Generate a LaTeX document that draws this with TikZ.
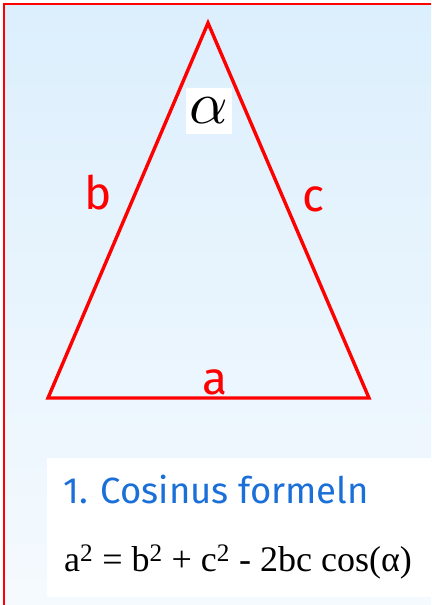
\documentclass[tikz,border=0pt]{standalone}
\usepackage{fontspec}
\usepackage{xcolor}
\setmainfont{Liberation Serif}
\newfontfamily\labelfont{Fira Sans}
\usetikzlibrary{positioning, calc}

\definecolor{skytop}{HTML}{DCEFFD}
\definecolor{skybottom}{HTML}{F5FAFE}
\definecolor{titleblue}{HTML}{1A6FD8}

\tikzset{
    sidelabel/.style={text=red, font=\labelfont\fontsize{46}{46}\selectfont, inner sep=0pt},
}

\begin{document}
\begin{tikzpicture}[x=1pt, y=-1pt]
    \useasboundingbox (0,0) rectangle (431,605);

    % Hintergrund
    \shade[top color=skytop, bottom color=skybottom] (4,4) rectangle (431,605);
    \draw[red, line width=1.2pt] (4,605) -- (4,4) -- (431,4);

    % Dreieck
    \coordinate (top) at (208,23);
    \coordinate (left) at (48,398);
    \coordinate (right) at (369,398);
    \draw[red, line width=3.4pt] (top) -- (right) -- (left) -- cycle;

    % Winkel
    \fill[white] (186,88) rectangle (232,134);
    \node[inner sep=0pt, scale=6] (alpha) at (209,111) {$\alpha$};

    % Seiten
    \node[sidelabel] (b) at (98,193) {b};
    \node[sidelabel] (c) at (313,199) {c};
    \node[sidelabel] (a) at (215,382) {a};

    % Formel
    \fill[white] (47,458) rectangle (431,597);
    \node[anchor=base west, inner sep=0pt, text=titleblue,
          font=\labelfont\fontsize{36.5}{36.5}\selectfont] (title) at (63,503) {1. Cosinus formeln};
    \node[anchor=base west, inner sep=0pt,
          font=\fontsize{36}{36}\selectfont] (formula) at (64,571)
        {a\textsuperscript{2} = b\textsuperscript{2} + c\textsuperscript{2} - 2bc cos(α)};
\end{tikzpicture}
\end{document}
